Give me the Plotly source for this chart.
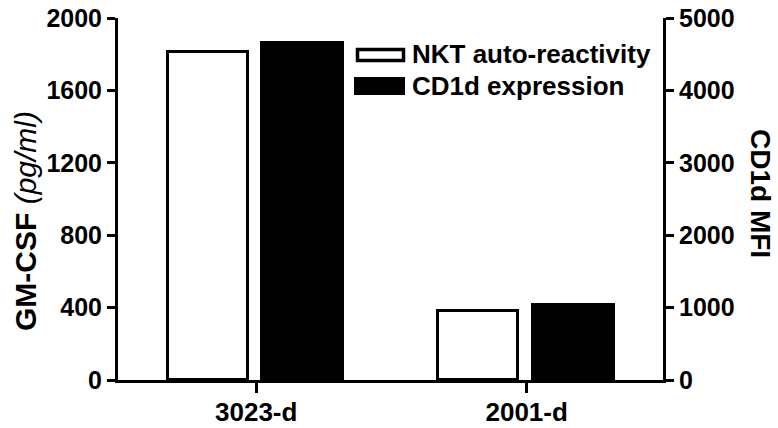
import plotly.graph_objects as go

categories = ["3023-d", "2001-d"]
gmcsf = [1810, 380]          # NKT auto-reactivity, GM-CSF (pg/ml), left axis
cd1d_mfi = [4650, 1030]      # CD1d expression, CD1d MFI, right axis
left_ticks = [0, 400, 800, 1200, 1600, 2000]
right_ticks = [0, 1000, 2000, 3000, 4000, 5000]
legend_labels = ["NKT auto-reactivity", "CD1d expression"]
left_title = "<b>GM-CSF</b> <i>(pg/ml)</i>"
right_title = "<b>CD1d MFI</b>"

W, H = 778, 428
L, R, T, B = 118, 115, 18, 48
FONT = "Arial, Liberation Sans, sans-serif"

fig = go.Figure()
fig.add_trace(go.Bar(
    x=categories, y=gmcsf, name=legend_labels[0], yaxis="y",
    marker=dict(color="white", line=dict(color="black", width=3)),
    offset=-0.328, width=0.297, showlegend=False,
))
fig.add_trace(go.Bar(
    x=categories, y=cd1d_mfi, name=legend_labels[1], yaxis="y2",
    marker=dict(color="black", line=dict(color="black", width=3)),
    offset=0.022, width=0.3, showlegend=False,
))

pw = W - L - R
ph = H - T - B
def px(x):
    return (x - L) / pw
def py(y):
    return (H - B - y) / ph

# custom legend
fig.add_shape(type="rect", xref="paper", yref="paper",
              x0=px(357.5), x1=px(403.5), y0=py(49.5), y1=py(60.5),
              line=dict(color="black", width=3.5), fillcolor="white")
fig.add_shape(type="rect", xref="paper", yref="paper",
              x0=px(354), x1=px(405), y0=py(77), y1=py(95),
              line=dict(color="black", width=0), fillcolor="black")
for lab, yc in zip(legend_labels, [54, 86]):
    fig.add_annotation(text=lab, xref="paper", yref="paper",
                       x=px(410), y=py(yc), xanchor="left", yanchor="middle",
                       showarrow=False,
                       font=dict(family=FONT, size=26, color="black", weight="bold"))

# axis titles
fig.add_annotation(text=left_title, xref="paper", yref="paper",
                   x=px(25), y=py(333), xanchor="center", yanchor="bottom",
                   textangle=-90, showarrow=False,
                   font=dict(family=FONT, size=30, color="black"))
fig.add_annotation(text=right_title, xref="paper", yref="paper",
                   x=px(761), y=py(193), xanchor="center", yanchor="middle",
                   textangle=90, showarrow=False,
                   font=dict(family=FONT, size=28, color="black"))

axis_common = dict(showline=True, linecolor="black", linewidth=3,
                   ticks="outside", tickcolor="black", tickwidth=3,
                   showgrid=False, zeroline=False, automargin=False)
tf = dict(family=FONT, size=25, color="black", weight="bold")

fig.update_layout(
    width=W, height=H,
    margin=dict(l=L, r=R, t=T, b=B, pad=0),
    paper_bgcolor="white", plot_bgcolor="white",
    barmode="overlay",
    bargap=0,
    xaxis=dict(type="category", range=[-0.511, 1.504], ticklen=10,
               ticklabelstandoff=-3, tickfont=dict(tf, size=26), **axis_common),
    yaxis=dict(range=[0, 2000], tickvals=left_ticks, ticktext=[str(v) for v in left_ticks],
               ticklen=8, tickfont=tf, **axis_common),
    yaxis2=dict(range=[0, 5000], overlaying="y", side="right",
                tickvals=right_ticks, ticktext=[str(v) for v in right_ticks],
                ticklen=8, tickfont=tf, **axis_common),
)

fig.write_html("out.html", config={"displayModeBar": False},
               post_script="document.body.style.margin='0';document.body.style.overflow='hidden';")
